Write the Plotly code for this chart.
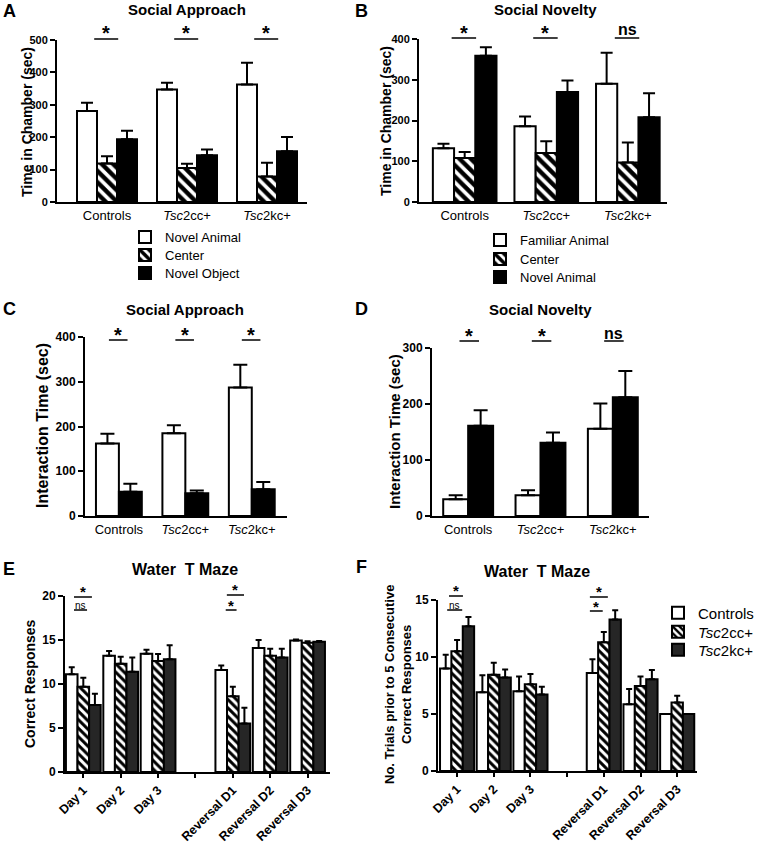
import plotly.graph_objects as go

W, H = 764, 844
FONT = "Liberation Sans, Arial, sans-serif"

# ---------------- Data ----------------
groups = ["Controls", "<i>Tsc</i>2cc+", "<i>Tsc</i>2kc+"]

# Panel A: Social Approach - time in chamber (sec)
a_names = ["Novel Animal", "Center", "Novel Object"]
a_novel_animal = [281, 347, 363]
a_novel_animal_err = [25, 21, 67]
a_center = [119, 105, 79]
a_center_err = [22, 13, 42]
a_novel_object = [194, 144, 157]
a_novel_object_err = [26, 18, 44]

# Panel B: Social Novelty - time in chamber (sec)
b_names = ["Familiar Animal", "Center", "Novel Animal"]
b_familiar = [132, 186, 290]
b_familiar_err = [11, 24, 76]
b_center = [108, 120, 97]
b_center_err = [15, 29, 49]
b_novel = [359, 270, 208]
b_novel_err = [21, 28, 59]

# Panel C: Social Approach - interaction time (sec)
c_novel_animal = [162, 185, 287]
c_novel_animal_err = [22, 18, 51]
c_novel_object = [54, 51, 60]
c_novel_object_err = [18, 6, 16]

# Panel D: Social Novelty - interaction time (sec)
d_familiar = [30, 37, 156]
d_familiar_err = [7, 9, 45]
d_novel = [161, 131, 212]
d_novel_err = [28, 18, 47]

# Panels E/F: Water T Maze
maze_days = ["Day 1", "Day 2", "Day 3", " ", "Reversal D1", "Reversal D2", "Reversal D3"]
genotypes = ["Controls", "<i>Tsc</i>2cc+", "<i>Tsc</i>2kc+"]

e_controls = [11.1, 13.2, 13.45, None, 11.6, 14.1, 14.95]
e_controls_err = [0.8, 0.55, 0.45, None, 0.5, 0.9, 0.1]
e_cc = [9.7, 12.3, 12.6, None, 8.6, 13.2, 14.7]
e_cc_err = [1.0, 0.8, 0.8, None, 1.1, 0.8, 0.15]
e_kc = [7.6, 11.4, 12.8, None, 5.5, 13.0, 14.8]
e_kc_err = [1.3, 1.6, 1.6, None, 1.8, 1.0, 0.1]

f_controls = [9.0, 6.9, 7.0, None, 8.6, 5.85, 5.0]
f_controls_err = [1.2, 1.5, 1.3, None, 1.2, 1.35, 0.0]
f_cc = [10.5, 8.45, 7.6, None, 11.3, 7.45, 6.0]
f_cc_err = [1.0, 1.05, 0.9, None, 0.9, 0.85, 0.6]
f_kc = [12.7, 8.2, 6.7, None, 13.3, 8.05, 5.0]
f_kc_err = [0.8, 0.7, 0.7, None, 0.8, 0.8, 0.0]

# ---------------- Helpers ----------------
def fx(px):
    return px / W

def fy(py):
    return 1 - py / H

OPEN = dict(color="white", line=dict(color="black", width=2))
SOLID = dict(color="black", line=dict(color="black", width=2))
DARK = dict(color="#262626", line=dict(color="black", width=2))

def hatch(size, solid):
    return dict(color="white", line=dict(color="black", width=2),
                pattern=dict(shape="\\", fgcolor="black", bgcolor="white",
                             size=size, solidity=solid))

fig = go.Figure()

def add_bars(n, xs, ys, errs, marker, width, offset, cap, name, legend=None):
    ax = "" if n == 1 else str(n)
    e = [0 if v is None else v for v in errs]
    fig.add_trace(go.Bar(
        x=xs, y=ys, name=name, marker=marker, width=width, offset=offset,
        xaxis="x" + ax, yaxis="y" + ax,
        error_y=dict(type="data", symmetric=False, array=e, arrayminus=[0] * len(e),
                     color="black", thickness=2, width=cap),
        showlegend=legend is not None, legend=legend if legend else "legend",
    ))

# A
add_bars(1, groups, a_novel_animal, a_novel_animal_err, OPEN, 0.25, -0.375, 6, a_names[0], "legend")
add_bars(1, groups, a_center, a_center_err, hatch(8, 0.55), 0.25, -0.125, 6, a_names[1], "legend2")
add_bars(1, groups, a_novel_object, a_novel_object_err, SOLID, 0.25, 0.125, 6, a_names[2], "legend3")
# B
add_bars(2, groups, b_familiar, b_familiar_err, OPEN, 0.26, -0.39, 6, b_names[0], "legend4")
add_bars(2, groups, b_center, b_center_err, hatch(8, 0.55), 0.26, -0.13, 6, b_names[1], "legend5")
add_bars(2, groups, b_novel, b_novel_err, SOLID, 0.26, 0.13, 6, b_names[2], "legend6")
# C
add_bars(3, groups, c_novel_animal, c_novel_animal_err, OPEN, 0.345, -0.345, 7, "Novel Animal")
add_bars(3, groups, c_novel_object, c_novel_object_err, SOLID, 0.345, 0.0, 7, "Novel Object")
# D
add_bars(4, groups, d_familiar, d_familiar_err, OPEN, 0.345, -0.345, 7, "Familiar Animal")
add_bars(4, groups, d_novel, d_novel_err, SOLID, 0.345, 0.0, 7, "Novel Animal")
# E
add_bars(5, maze_days, e_controls, e_controls_err, OPEN, 0.31, -0.465, 3, genotypes[0])
add_bars(5, maze_days, e_cc, e_cc_err, hatch(6, 0.5), 0.31, -0.155, 3, genotypes[1])
add_bars(5, maze_days, e_kc, e_kc_err, DARK, 0.31, 0.155, 3, genotypes[2])
# F
add_bars(6, maze_days, f_controls, f_controls_err, OPEN, 0.31, -0.465, 3, genotypes[0], "legend7")
add_bars(6, maze_days, f_cc, f_cc_err, hatch(6, 0.5), 0.31, -0.155, 3, genotypes[1], "legend8")
add_bars(6, maze_days, f_kc, f_kc_err, DARK, 0.31, 0.155, 3, genotypes[2], "legend9")

# ---------------- Axes ----------------
def xaxis(px0, px1, rng, n, cats, maze=False):
    d = dict(domain=[fx(px0), fx(px1)], range=rng, type="category",
             categoryorder="array", categoryarray=cats, automargin=False,
             anchor="y" + ("" if n == 1 else str(n)),
             showline=True, linewidth=2, linecolor="black", showgrid=False,
             zeroline=False, fixedrange=True)
    if maze:
        d.update(ticks="outside", ticklen=4, tickwidth=1.5, tickcolor="black",
                 tickangle=-45,
                 tickfont=dict(family=FONT, size=12.5, color="black", weight="bold"))
    else:
        d.update(ticks="", tickfont=dict(family=FONT, size=13, color="black"))
    return d

def yaxis(top, bottom, rng, dtick, n, fs):
    return dict(domain=[fy(bottom), fy(top)], range=rng, dtick=dtick, automargin=False,
                anchor="x" + ("" if n == 1 else str(n)),
                showline=True, linewidth=2, linecolor="black",
                ticks="outside", ticklen=5, tickwidth=2, tickcolor="black",
                showgrid=False, zeroline=False, fixedrange=True,
                tickfont=dict(family=FONT, size=fs, color="black", weight="bold"))

layout = dict(
    template="none",
    width=W, height=H, margin=dict(l=0, r=0, t=0, b=0, autoexpand=False),
    paper_bgcolor="white", plot_bgcolor="white",
    barmode="overlay", font=dict(family=FONT, color="black"),
    xaxis=xaxis(57, 307, [-0.625, 2.5], 1, groups),
    yaxis=yaxis(40, 202, [0, 500], 100, 1, 11),
    xaxis2=xaxis(419, 667, [-0.56, 2.48], 2, groups),
    yaxis2=yaxis(39, 202, [0, 400], 100, 2, 11),
    xaxis3=xaxis(85, 287, [-0.51, 2.53], 3, groups),
    yaxis3=yaxis(337, 516, [0, 400], 100, 3, 12),
    xaxis4=xaxis(432, 649, [-0.5, 2.5], 4, groups),
    yaxis4=yaxis(348, 516, [0, 300], 100, 4, 12),
    xaxis5=xaxis(65, 330, [-0.49, 6.6], 5, maze_days, True),
    yaxis5=yaxis(596, 772, [0, 20], 5, 5, 12),
    xaxis6=xaxis(438, 697, [-0.52, 6.54], 6, maze_days, True),
    yaxis6=yaxis(600, 771, [0, 15], 5, 6, 12),
)

# legends: one per entry so rows can be spaced like the original
def leg(text_x, row_y, fs):
    return dict(x=fx(text_x - 40), xanchor="left", y=fy(row_y), yanchor="middle",
                bgcolor="rgba(0,0,0,0)", font=dict(family=FONT, size=fs, color="black"),
                borderwidth=0)

rowsA = [237, 255, 273]
rowsB = [240, 259, 277]
rowsF = [613, 632, 650]
for i, r in enumerate(rowsA):
    layout["legend" if i == 0 else "legend%d" % (i + 1)] = leg(165, r, 13)
for i, r in enumerate(rowsB):
    layout["legend%d" % (i + 4)] = leg(520, r, 13)
for i, r in enumerate(rowsF):
    layout["legend%d" % (i + 7)] = leg(698, r, 15)

fig.update_layout(**layout)

# ---------------- Text annotations ----------------
def txt(x, y, s, size, bold=True, angle=0, xref="paper", xanchor="center"):
    fig.add_annotation(x=x, y=y, xref=xref, yref="paper", text=s, showarrow=False,
                       textangle=angle, xanchor=xanchor, yanchor="middle",
                       font=dict(family=FONT, size=size, color="black",
                                 weight="bold" if bold else "normal"))

# titles
txt(fx(187), fy(9), "Social Approach", 15)
txt(fx(545), fy(9), "Social Novelty", 15)
txt(fx(185), fy(310), "Social Approach", 15)
txt(fx(540), fy(310), "Social Novelty", 15)
txt(fx(185), fy(569), "Water\u00a0 T Maze", 16)
txt(fx(537), fy(571), "Water\u00a0 T Maze", 16)

# panel letters
for letter, x, y in [("A", 9, 11), ("B", 361, 11), ("C", 9, 309), ("D", 361, 309),
                     ("E", 9, 569), ("F", 361, 567)]:
    txt(fx(x), fy(y), letter, 18)

# y-axis titles
txt(fx(27), fy(122), "Time in Chamber (sec)", 14, angle=-90)
txt(fx(386), fy(121), "Time in Chamber (sec)", 14, angle=-90)
txt(fx(42), fy(426), "Interaction Time (sec)", 16, angle=-90)
txt(fx(395), fy(432), "Interaction Time (sec)", 15, angle=-90)
txt(fx(30), fy(684), "Correct Responses", 14, angle=-90)
txt(fx(398), fy(685), "No. Trials prior to 5 Consecutive<br>Correct Responses", 13, angle=-90)

# ---------------- Significance marks ----------------
def sig(n, cat, x0, x1, line_y, label, text_y, size, bold=True, lw=1.5):
    xr = "x" + ("" if n == 1 else str(n))
    fig.add_shape(type="line", xref=xr, yref="paper", x0=cat + x0, x1=cat + x1,
                  y0=fy(line_y), y1=fy(line_y), line=dict(color="black", width=lw))
    txt((cat + (x0 + x1) / 2), fy(text_y), label, size, bold=bold, xref=xr)

for i in range(3):
    sig(1, i, -0.16, 0.14, 39, "*", 33, 20)
for i, lab in enumerate(["*", "*", "ns"]):
    sig(2, i, -0.16, 0.14, 38, lab, 33 if lab == "*" else 29, 20 if lab == "*" else 16)
for i in range(3):
    sig(3, i, -0.15, 0.13, 340, "*", 335, 20)
for i, lab in enumerate(["*", "*", "ns"]):
    sig(4, i, -0.12, 0.15, 341, lab, 336 if lab == "*" else 333, 20 if lab == "*" else 16)

# E
sig(5, 0, -0.25, 0.23, 597, "*", 591, 15)
sig(5, 0, -0.25, 0.10, 610, "ns", 605, 10, bold=False)
sig(5, 4, -0.16, 0.30, 595, "*", 589, 15)
sig(5, 4, -0.19, 0.10, 610, "*", 605, 15)
# F
sig(6, 0, -0.22, 0.16, 596, "*", 590, 15)
sig(6, 0, -0.27, 0.14, 610, "ns", 605, 10, bold=False)
sig(6, 4, -0.38, 0.11, 597, "*", 591, 15)
sig(6, 4, -0.38, -0.03, 611, "*", 606, 15)

# the page is photographed from its top-left corner: drop the default body margin
fig.write_html("out.html", config={"displayModeBar": False},
               post_script="document.body.style.margin='0';")
